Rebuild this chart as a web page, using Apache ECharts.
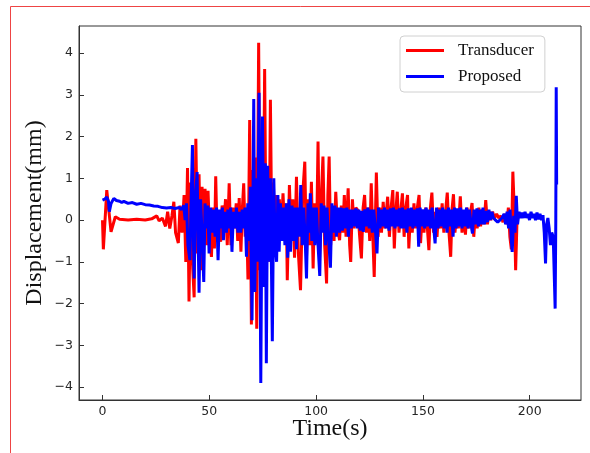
<!DOCTYPE html>
<html>
<head>
<meta charset="utf-8">
<script src="https://cdn.jsdelivr.net/npm/echarts@6/dist/echarts.min.js"></script>
<style>html,body{margin:0;padding:0;background:#fff}#c{width:590px;height:453px}</style>
</head>
<body>
<div id="c"></div>
<script>
const seriesNames = ['Transducer', 'Proposed'];
const xTicks = [0, 50, 100, 150, 200];
const yTicks = [-4, -3, -2, -1, 0, 1, 2, 3, 4];

// [time (s), displacement (mm)]
const transducer = [
[0,0.0],[0.4,-0.7],[2,0.72],[4,-0.28],[6,0.08],[8,0.02],[12,0.0],[16,0.02],[20,0.0],[23,0.03],[25.4,0.1],[26.5,-0.02],[28,0.05],
[29.5,-0.15],[30.5,0.2],[31.5,-0.2],[32.5,0.1],[33.4,0.44],[34.2,-0.3],[35.5,-0.55],[36.3,0.35],[37.2,-0.3],[38.2,0.6],[39,-1.0],
[39.8,1.25],[40.5,-1.95],[41.3,0.9],[42,-0.9],[42.9,-1.85],[43.7,1.95],[44.5,-0.8],[45.2,1.1],[46,-1.2],[46.6,0.8],[47.3,-0.3],
[48,0.75],[48.7,-0.6],[49.4,0.7],[50.2,-0.4],[51,-0.88],[51.8,0.3],[52.4,-0.68],[53,1.05],[53.7,-0.5],[54.5,0.2],[55.3,-0.52],
[56,0.35],[56.8,-0.1],[57.6,0.5],[58.4,-0.6],[59.3,0.88],[60.1,-0.6],[61,0.3],[61.8,-0.2],[62.6,0.4],[63.3,-0.5],[64,0.53],
[64.8,-0.76],[65.5,0.3],[66.1,0.88],[66.8,-0.4],[67.4,0.2],[68.1,-1.42],[68.9,2.4],[69.7,-2.5],[70.4,1.2],[71.1,-0.8],[71.6,1.5],
[72.2,-2.6],[73.1,4.25],[73.8,-1.2],[74.5,1.8],[75.1,-1.6],[75.9,3.62],[76.6,-0.9],[77.3,1.2],[78,-1.0],[78.6,2.88],[79.3,-0.6],
[80,0.9],[80.7,-0.7],[81.4,0.6],[82.1,-0.4],[82.8,0.5],[83.5,-0.5],[84.5,0.64],[85.3,-0.3],[86,0.4],[86.5,-1.44],[87.5,0.84],
[88.3,-0.4],[89.1,0.5],[89.9,-0.9],[90.8,1.04],[91.7,-0.8],[92.7,-1.68],[93.7,0.6],[94.7,1.4],[95.5,-0.9],[96.3,0.5],[97,-0.6],
[97.8,0.92],[98.6,-1.16],[99.3,0.4],[100.2,-0.5],[100.9,1.88],[101.6,-0.9],[102.4,0.5],[103.2,1.52],[104.0,-0.6],[104.9,-1.52],
[105.5,0.6],[106.1,1.52],[106.8,-0.6],[107.5,0.3],[108.4,-0.5],[109.2,0.68],[110,-0.2],[111,-0.48],[111.8,0.35],[112.5,-0.3],
[113.2,0.6],[114,-0.4],[115,0.76],[115.7,-0.6],[116.2,-1.0],[117,0.5],[117.8,-0.2],[118.6,0.3],[119.5,0.24],[120.4,-0.4],
[121.2,-0.92],[122,0.3],[122.7,0.6],[123.5,-0.3],[124.4,0.3],[125.1,-0.5],[125.8,0.88],[126.5,-0.3],[127.2,-1.36],[128.2,1.14],
[129,-0.4],[129.8,0.3],[130.6,-0.3],[131.4,0.44],[132.2,-0.2],[133.5,0.56],[134.3,-0.4],[135.1,0.3],[135.9,0.72],[136.6,-0.68],
[137.3,0.2],[138,0.68],[138.8,-0.3],[139.6,0.2],[140.4,0.64],[141.2,-0.4],[142,0.3],[142.8,0.6],[143.4,-0.68],[144.2,0.2],
[145,-0.3],[145.8,0.4],[146.6,-0.2],[147.4,0.3],[148.2,0.6],[148.9,-0.55],[149.7,0.2],[150.5,-0.3],[151.3,0.3],[152.1,-0.2],
[152.8,-0.72],[153.5,0.3],[154.2,0.66],[155,-0.3],[155.8,0.2],[156.6,-0.4],[157.4,0.3],[158.2,-0.2],[159,0.4],[159.8,-0.3],
[160.6,0.2],[161.4,0.66],[162.2,-0.3],[163,-0.88],[163.7,0.3],[164.3,0.62],[165,-0.3],[165.8,0.2],[166.6,-0.2],[167.5,0.57],
[168.3,-0.3],[169.1,0.2],[169.9,-0.35],[170.7,0.3],[171.5,-0.2],[172.3,0.2],[173,0.41],[173.8,-0.4],[174.6,0.2],[175.4,-0.2],
[176.2,0.3],[177,-0.15],[177.8,0.25],[178.6,-0.1],[179.4,0.48],[180.2,-0.1],[181,0.2],[181.8,0.0],[182.6,0.2],[183.5,0.05],
[184.5,0.15],[185.5,0.05],[186.5,0.1],[187.5,-0.05],[188.5,0.15],[189.3,-0.1],[190,0.3],[190.7,-0.4],[191.4,-0.7],[192.1,1.16],
[192.8,0.2],[193.4,-1.2],[194.1,0.1],[195,0.1]
];

const proposed = [
[0,0.48],[1,0.5],[2,0.55],[2.8,0.45],[3.2,0.2],[4,0.4],[5.3,0.52],[6.5,0.47],[8,0.45],[9,0.42],[10,0.45],[12,0.4],[14,0.42],
[16,0.38],[18,0.4],[20,0.37],[22,0.36],[24,0.34],[26,0.33],[28,0.3],[30,0.29],[32,0.3],[34,0.28],[36,0.3],[37,0.25],[38,0.35],
[38.7,0.0],[39.3,0.4],[40,-0.6],[40.9,-0.96],[41.5,0.5],[42.1,1.8],[42.5,-0.3],[42.9,-1.4],[43.6,0.6],[44.3,1.15],[44.8,-0.5],
[45.2,-1.74],[45.9,0.5],[46.6,-0.3],[47.4,-1.48],[48,0.4],[48.7,-0.2],[49.3,0.35],[49.9,-0.8],[50.6,0.3],[51.3,-0.3],[52,0.25],
[52.7,-0.4],[53.4,0.3],[54.1,-0.96],[54.8,0.25],[55.5,-0.2],[56.1,0.3],[56.6,-0.48],[57.3,0.2],[58,-0.3],[58.7,0.25],[59.4,-0.2],
[60,0.3],[60.6,-0.76],[61.3,0.2],[62,-0.2],[62.7,0.3],[63.4,-0.3],[64,0.2],[64.7,-0.3],[65.4,0.25],[66,-0.2],[66.7,0.3],
[67.4,-0.88],[68,0.4],[68.6,-0.5],[69.2,0.8],[70,-2.4],[70.8,2.9],[71.3,-1.72],[71.9,1.0],[72.5,-1.0],[73.3,3.05],[74.1,-3.9],
[74.9,2.48],[75.6,-1.6],[76.2,1.36],[76.7,-3.43],[77.3,1.3],[78,-1.0],[78.6,1.0],[79.5,-2.9],[80.2,1.0],[80.8,-0.6],[81.5,-1.0],
[82.1,0.6],[82.7,-0.76],[83.3,0.4],[84,-0.5],[84.7,0.3],[85.4,-0.6],[86.1,0.4],[86.7,-0.9],[87.3,0.5],[88,-0.76],[88.7,0.35],
[89.4,-0.5],[90.1,0.3],[90.8,-0.7],[91.5,0.3],[92.2,-0.4],[92.8,0.84],[93.5,-0.6],[94.2,0.3],[94.9,-0.5],[95.5,-1.4],[96.2,0.4],
[96.8,-0.3],[97.3,0.64],[98,-0.5],[98.7,0.3],[99.4,-0.6],[100.1,0.3],[100.8,-0.5],[101.7,-1.34],[102.4,0.4],[103,-0.3],[103.7,0.35],
[104.4,-0.6],[105.1,0.3],[105.8,-0.4],[106.7,-1.14],[107.4,0.4],[108.1,-0.3],[108.8,0.35],[109.5,-0.4],[110.2,0.3],[110.9,-0.3],
[111.6,0.3],[112.3,-0.25],[113,0.28],[113.7,-0.2],[114.4,0.3],[115.1,-0.4],[115.8,0.25],[116.5,-0.2],[117.2,0.25],[117.9,-0.15],
[118.6,0.28],[119.3,-0.2],[120,0.25],[120.7,-0.25],[121.4,0.22],[122.1,-0.28],[122.8,0.26],[123.5,-0.15],[124.2,0.3],[124.9,-0.2],
[125.6,0.25],[126.3,-0.3],[127,0.25],[127.7,-0.2],[128.5,-0.8],[129.2,0.3],[129.9,-0.2],[130.6,0.25],[131.3,-0.15],[132,0.3],
[132.7,-0.2],[133.4,0.25],[134.1,-0.25],[134.8,0.28],[135.5,-0.15],[136.2,0.3],[136.9,-0.2],[137.6,0.25],[138.3,-0.15],[139,0.28],
[139.7,-0.2],[140.4,0.3],[141.1,-0.2],[141.8,0.25],[142.5,-0.3],[143.2,0.28],[143.9,-0.15],[144.6,0.3],[145.3,-0.2],[146,0.25],
[146.7,-0.15],[147.4,0.28],[148,-0.64],[148.7,0.3],[149.4,-0.15],[150.1,0.26],[150.8,-0.2],[151.5,0.3],[152.2,-0.15],[152.9,0.25],
[153.6,-0.2],[154.3,0.3],[155,-0.15],[155.7,-0.56],[156.4,0.3],[157.1,-0.2],[157.8,0.25],[158.5,-0.15],[159.2,0.3],[159.9,-0.2],
[160.6,0.25],[161.3,-0.3],[162,0.3],[162.7,-0.15],[163.4,0.25],[164.1,-0.4],[164.8,0.3],[165.5,-0.2],[166.2,0.28],[166.9,-0.15],
[167.6,0.3],[168.3,-0.2],[169,0.25],[169.7,-0.15],[170.4,0.3],[171.1,-0.2],[171.8,0.25],[172.5,-0.1],[173.2,-0.32],[173.9,0.25],
[174.6,-0.1],[175.3,0.28],[176,-0.15],[176.7,0.25],[177.4,-0.1],[178.1,0.3],[178.8,-0.1],[179.5,0.22],[180.2,-0.05],[180.9,0.25],
[181.6,0.0],[182.3,0.2],[183,0.05],[184,0.0],[185,-0.05],[186,0.0],[187,0.05],[188,0.15],[188.7,-0.1],[189.4,0.2],[190.1,-0.2],
[190.8,0.25],[191.4,-0.5],[191.8,-0.76],[192.5,0.1],[193.1,-0.3],[193.7,0.58],[194.3,-0.1],[195,0.2],[195.7,0.05],[196.4,0.18],
[197.1,0.05],[197.8,0.2],[198.5,0.05],[199.2,0.15],[199.9,0.0],[200.6,0.2],[201.3,0.05],[202,0.15],[202.7,0.0],[203.4,0.18],
[204.1,0.02],[204.8,0.15],[205.5,0.0],[206.2,0.12],[206.8,-0.3],[207.4,-1.04],[207.9,-0.1],[208.5,0.05],[209.1,-0.2],[209.7,-0.6],
[210.3,-0.3],[211,-0.4],[211.9,-2.12],[212.2,0.0],[212.4,3.18],[212.6,0.85]
];

const chart = echarts.init(document.getElementById('c'), null, {renderer: 'canvas'});
const tickFont = {fontFamily: 'DejaVu Sans', fontSize: 12.5, color: '#262626'};
const fmt = v => String(v).replace('-', '\u2212');
chart.setOption({
  animation: false,
  backgroundColor: '#fff',
  graphic: [{type: 'rect', shape: {x: 10.5, y: 6.5, width: 700, height: 600}, style: {fill: 'none', stroke: '#ee4444', lineWidth: 1}, silent: true, z: 100}],
  grid: {left: 79, top: 26, right: 9, bottom: 53, show: true, borderColor: '#333', borderWidth: 1, backgroundColor: 'transparent'},
  legend: {
    data: seriesNames, orient: 'vertical', left: 400, top: 36,
    icon: 'rect', itemWidth: 38, itemHeight: 3, itemGap: 9,
    padding: [6, 11, 7, 6], borderColor: '#d0d0d0', borderWidth: 1, borderRadius: 4,
    backgroundColor: 'rgba(255,255,255,0.85)',
    textStyle: {fontFamily: 'Liberation Serif', fontSize: 17, color: '#111', padding: [0, 0, 0, 9]}
  },
  xAxis: {
    type: 'value', min: -11, max: 224, splitNumber: 5,
    name: 'Time(s)', nameLocation: 'middle', nameGap: 17, nameMoveOverlap: false,
    nameTextStyle: {fontFamily: 'Liberation Serif', fontSize: 24, color: '#111'},
    axisLine: {show: true, onZero: false, lineStyle: {color: '#333', width: 1}},
    axisTick: {show: true, inside: true, length: 5, lineStyle: {color: '#333'},
      customValues: xTicks},
    axisLabel: {...tickFont, margin: 5, customValues: xTicks, formatter: fmt},
    splitLine: {show: false}
  },
  yAxis: {
    type: 'value', min: -4.31, max: 4.65, splitNumber: 8,
    name: 'Displacement(mm)', nameLocation: 'middle', nameGap: 32, nameMoveOverlap: false,
    nameTextStyle: {fontFamily: 'Liberation Serif', fontSize: 24, color: '#111'},
    axisLine: {show: true, onZero: false, lineStyle: {color: '#333', width: 1}},
    axisTick: {show: true, inside: true, length: 5, lineStyle: {color: '#333'},
      customValues: yTicks},
    axisLabel: {...tickFont, margin: 6, customValues: yTicks, formatter: fmt},
    splitLine: {show: false}
  },
  series: [
    {name: seriesNames[0], type: 'line', data: transducer, symbol: 'none', lineStyle: {color: '#ff0000', width: 3}, itemStyle: {color: '#ff0000'}, z: 2},
    {name: seriesNames[1], type: 'line', data: proposed, symbol: 'none', lineStyle: {color: '#0000ff', width: 3}, itemStyle: {color: '#0000ff'}, z: 3}
  ]
});
</script>
</body>
</html>
